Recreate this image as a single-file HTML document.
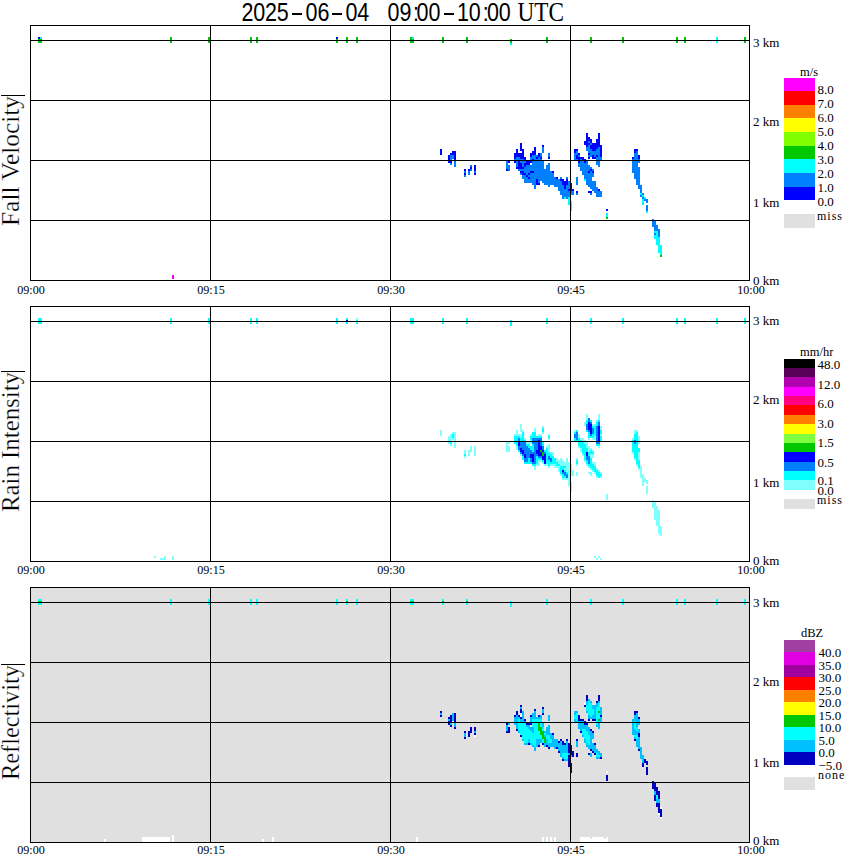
<!DOCTYPE html>
<html><head><meta charset="utf-8"><style>
html,body{margin:0;padding:0;background:#fff;width:850px;height:868px;overflow:hidden}
svg{display:block}
text{fill:#000}
</style></head><body>
<svg width="850" height="868" viewBox="0 0 850 868" shape-rendering="crispEdges">
<rect x="0" y="0" width="850" height="868" fill="#fff"/>
<rect x="38" y="37" width="2" height="2" fill="#0000ff"/>
<rect x="38" y="39" width="2" height="4" fill="#00c800"/>
<rect x="40" y="37" width="2" height="2" fill="#00ffff"/>
<rect x="40" y="39" width="2" height="4" fill="#00c800"/>
<rect x="170" y="37" width="2" height="6" fill="#00c800"/>
<rect x="172" y="275" width="2" height="4" fill="#ff00ff"/>
<rect x="208" y="37" width="2" height="6" fill="#00c800"/>
<rect x="250" y="37" width="2" height="6" fill="#00c800"/>
<rect x="256" y="37" width="2" height="6" fill="#00c800"/>
<rect x="336" y="37" width="2" height="2" fill="#0000ff"/>
<rect x="336" y="39" width="2" height="4" fill="#00c800"/>
<rect x="346" y="37" width="2" height="6" fill="#00c800"/>
<rect x="356" y="37" width="2" height="6" fill="#00c800"/>
<rect x="410" y="37" width="2" height="6" fill="#00c800"/>
<rect x="412" y="37" width="2" height="2" fill="#00ffff"/>
<rect x="412" y="39" width="2" height="4" fill="#00c800"/>
<rect x="440" y="149" width="2" height="6" fill="#0000ff"/>
<rect x="442" y="37" width="2" height="6" fill="#00c800"/>
<rect x="448" y="155" width="2" height="8" fill="#0000ff"/>
<rect x="450" y="153" width="2" height="2" fill="#0000ff"/>
<rect x="450" y="155" width="2" height="6" fill="#0080ff"/>
<rect x="450" y="161" width="2" height="2" fill="#0000ff"/>
<rect x="450" y="163" width="2" height="2" fill="#0080ff"/>
<rect x="452" y="151" width="2" height="4" fill="#0000ff"/>
<rect x="452" y="155" width="2" height="4" fill="#0080ff"/>
<rect x="454" y="151" width="2" height="10" fill="#0000ff"/>
<rect x="454" y="161" width="2" height="6" fill="#0080ff"/>
<rect x="464" y="169" width="2" height="2" fill="#0000ff"/>
<rect x="464" y="171" width="2" height="2" fill="#0080ff"/>
<rect x="464" y="173" width="2" height="2" fill="#0000ff"/>
<rect x="464" y="175" width="2" height="2" fill="#0080ff"/>
<rect x="466" y="37" width="2" height="6" fill="#00c800"/>
<rect x="468" y="169" width="2" height="2" fill="#0000ff"/>
<rect x="468" y="171" width="2" height="4" fill="#0080ff"/>
<rect x="470" y="165" width="2" height="2" fill="#0080ff"/>
<rect x="470" y="167" width="2" height="2" fill="#0000ff"/>
<rect x="470" y="169" width="2" height="2" fill="#0080ff"/>
<rect x="474" y="165" width="2" height="6" fill="#0000ff"/>
<rect x="474" y="171" width="2" height="2" fill="#0080ff"/>
<rect x="474" y="173" width="2" height="2" fill="#0000ff"/>
<rect x="506" y="161" width="2" height="8" fill="#0080ff"/>
<rect x="506" y="169" width="2" height="2" fill="#0000ff"/>
<rect x="508" y="161" width="2" height="2" fill="#0000ff"/>
<rect x="508" y="165" width="2" height="6" fill="#0080ff"/>
<rect x="510" y="39" width="2" height="4" fill="#00c800"/>
<rect x="510" y="43" width="2" height="2" fill="#00ffff"/>
<rect x="514" y="153" width="2" height="6" fill="#0000ff"/>
<rect x="514" y="159" width="2" height="2" fill="#0080ff"/>
<rect x="514" y="161" width="2" height="2" fill="#0000ff"/>
<rect x="516" y="149" width="2" height="8" fill="#0000ff"/>
<rect x="516" y="157" width="2" height="10" fill="#0080ff"/>
<rect x="516" y="167" width="2" height="2" fill="#0000ff"/>
<rect x="518" y="153" width="2" height="4" fill="#0000ff"/>
<rect x="518" y="157" width="2" height="4" fill="#0080ff"/>
<rect x="518" y="161" width="2" height="8" fill="#0000ff"/>
<rect x="518" y="169" width="2" height="2" fill="#0080ff"/>
<rect x="520" y="143" width="2" height="8" fill="#0000ff"/>
<rect x="520" y="153" width="2" height="6" fill="#0000ff"/>
<rect x="520" y="159" width="2" height="4" fill="#0080ff"/>
<rect x="520" y="163" width="2" height="6" fill="#0000ff"/>
<rect x="520" y="169" width="2" height="2" fill="#0080ff"/>
<rect x="520" y="171" width="2" height="2" fill="#0000ff"/>
<rect x="520" y="173" width="2" height="2" fill="#0080ff"/>
<rect x="522" y="149" width="2" height="10" fill="#0000ff"/>
<rect x="522" y="159" width="2" height="8" fill="#0080ff"/>
<rect x="522" y="167" width="2" height="2" fill="#0000ff"/>
<rect x="522" y="169" width="2" height="2" fill="#0080ff"/>
<rect x="522" y="171" width="2" height="4" fill="#0000ff"/>
<rect x="522" y="175" width="2" height="4" fill="#0080ff"/>
<rect x="524" y="157" width="2" height="4" fill="#0000ff"/>
<rect x="524" y="161" width="2" height="2" fill="#0080ff"/>
<rect x="524" y="163" width="2" height="4" fill="#0000ff"/>
<rect x="524" y="167" width="2" height="6" fill="#0080ff"/>
<rect x="524" y="173" width="2" height="2" fill="#0000ff"/>
<rect x="524" y="175" width="2" height="8" fill="#0080ff"/>
<rect x="526" y="161" width="2" height="4" fill="#0000ff"/>
<rect x="526" y="165" width="2" height="10" fill="#0080ff"/>
<rect x="526" y="175" width="2" height="2" fill="#0000ff"/>
<rect x="526" y="177" width="2" height="6" fill="#0080ff"/>
<rect x="528" y="161" width="2" height="4" fill="#0000ff"/>
<rect x="528" y="165" width="2" height="8" fill="#0080ff"/>
<rect x="528" y="173" width="2" height="2" fill="#0000ff"/>
<rect x="528" y="175" width="2" height="2" fill="#0080ff"/>
<rect x="528" y="177" width="2" height="2" fill="#0000ff"/>
<rect x="528" y="179" width="2" height="4" fill="#0080ff"/>
<rect x="530" y="153" width="2" height="4" fill="#0000ff"/>
<rect x="530" y="157" width="2" height="4" fill="#0080ff"/>
<rect x="530" y="161" width="2" height="2" fill="#0000ff"/>
<rect x="530" y="165" width="2" height="6" fill="#0080ff"/>
<rect x="530" y="171" width="2" height="2" fill="#0000ff"/>
<rect x="530" y="173" width="2" height="10" fill="#0080ff"/>
<rect x="532" y="151" width="2" height="4" fill="#0000ff"/>
<rect x="532" y="155" width="2" height="4" fill="#0080ff"/>
<rect x="532" y="159" width="2" height="2" fill="#0000ff"/>
<rect x="532" y="161" width="2" height="10" fill="#0080ff"/>
<rect x="532" y="171" width="2" height="2" fill="#0000ff"/>
<rect x="532" y="173" width="2" height="12" fill="#0080ff"/>
<rect x="534" y="147" width="2" height="8" fill="#0000ff"/>
<rect x="534" y="155" width="2" height="34" fill="#0080ff"/>
<rect x="536" y="155" width="2" height="2" fill="#0080ff"/>
<rect x="536" y="157" width="2" height="2" fill="#0000ff"/>
<rect x="536" y="159" width="2" height="20" fill="#0080ff"/>
<rect x="536" y="179" width="2" height="6" fill="#0000ff"/>
<rect x="538" y="153" width="2" height="4" fill="#0000ff"/>
<rect x="538" y="157" width="2" height="26" fill="#0080ff"/>
<rect x="538" y="183" width="2" height="2" fill="#0000ff"/>
<rect x="540" y="153" width="2" height="4" fill="#0080ff"/>
<rect x="540" y="157" width="2" height="2" fill="#0000ff"/>
<rect x="540" y="159" width="2" height="22" fill="#0080ff"/>
<rect x="542" y="145" width="2" height="2" fill="#0000ff"/>
<rect x="542" y="147" width="2" height="6" fill="#0080ff"/>
<rect x="542" y="161" width="2" height="22" fill="#0080ff"/>
<rect x="544" y="169" width="2" height="16" fill="#0080ff"/>
<rect x="546" y="37" width="2" height="6" fill="#00c800"/>
<rect x="546" y="165" width="2" height="20" fill="#0080ff"/>
<rect x="548" y="153" width="2" height="4" fill="#0080ff"/>
<rect x="548" y="157" width="2" height="2" fill="#0000ff"/>
<rect x="548" y="163" width="2" height="24" fill="#0080ff"/>
<rect x="550" y="171" width="2" height="14" fill="#0080ff"/>
<rect x="552" y="171" width="2" height="2" fill="#0000ff"/>
<rect x="552" y="173" width="2" height="12" fill="#0080ff"/>
<rect x="554" y="177" width="2" height="10" fill="#0080ff"/>
<rect x="556" y="177" width="2" height="2" fill="#0000ff"/>
<rect x="556" y="179" width="2" height="8" fill="#0080ff"/>
<rect x="558" y="179" width="2" height="12" fill="#0080ff"/>
<rect x="560" y="177" width="2" height="2" fill="#0080ff"/>
<rect x="560" y="179" width="2" height="2" fill="#0000ff"/>
<rect x="560" y="181" width="2" height="14" fill="#0080ff"/>
<rect x="562" y="179" width="2" height="6" fill="#0000ff"/>
<rect x="562" y="185" width="2" height="14" fill="#0080ff"/>
<rect x="564" y="181" width="2" height="8" fill="#0000ff"/>
<rect x="564" y="189" width="2" height="8" fill="#0080ff"/>
<rect x="564" y="197" width="2" height="2" fill="#00ffff"/>
<rect x="566" y="177" width="2" height="2" fill="#0080ff"/>
<rect x="566" y="179" width="2" height="6" fill="#0000ff"/>
<rect x="566" y="185" width="2" height="14" fill="#0080ff"/>
<rect x="568" y="181" width="2" height="8" fill="#0080ff"/>
<rect x="568" y="189" width="2" height="2" fill="#0000ff"/>
<rect x="568" y="191" width="2" height="6" fill="#0080ff"/>
<rect x="568" y="197" width="2" height="8" fill="#00ffff"/>
<rect x="570" y="183" width="2" height="8" fill="#0000ff"/>
<rect x="570" y="191" width="2" height="4" fill="#0080ff"/>
<rect x="570" y="201" width="2" height="10" fill="#00ffff"/>
<rect x="572" y="189" width="2" height="2" fill="#0000ff"/>
<rect x="572" y="191" width="2" height="4" fill="#0080ff"/>
<rect x="574" y="149" width="2" height="4" fill="#0000ff"/>
<rect x="574" y="153" width="2" height="8" fill="#0080ff"/>
<rect x="576" y="149" width="2" height="2" fill="#0000ff"/>
<rect x="576" y="151" width="2" height="4" fill="#0080ff"/>
<rect x="576" y="155" width="2" height="4" fill="#0000ff"/>
<rect x="576" y="159" width="2" height="2" fill="#0080ff"/>
<rect x="576" y="177" width="2" height="8" fill="#0080ff"/>
<rect x="576" y="191" width="2" height="2" fill="#0000ff"/>
<rect x="576" y="193" width="2" height="2" fill="#0080ff"/>
<rect x="578" y="153" width="2" height="2" fill="#0000ff"/>
<rect x="578" y="155" width="2" height="2" fill="#0080ff"/>
<rect x="578" y="157" width="2" height="6" fill="#0000ff"/>
<rect x="578" y="163" width="2" height="4" fill="#0080ff"/>
<rect x="580" y="157" width="2" height="2" fill="#0000ff"/>
<rect x="580" y="159" width="2" height="12" fill="#0080ff"/>
<rect x="582" y="157" width="2" height="4" fill="#0000ff"/>
<rect x="582" y="161" width="2" height="14" fill="#0080ff"/>
<rect x="584" y="141" width="2" height="4" fill="#0000ff"/>
<rect x="584" y="159" width="2" height="4" fill="#0000ff"/>
<rect x="584" y="163" width="2" height="16" fill="#0080ff"/>
<rect x="584" y="179" width="2" height="2" fill="#00ffff"/>
<rect x="586" y="133" width="2" height="14" fill="#0000ff"/>
<rect x="586" y="147" width="2" height="4" fill="#0080ff"/>
<rect x="586" y="161" width="2" height="24" fill="#0080ff"/>
<rect x="588" y="137" width="2" height="4" fill="#0000ff"/>
<rect x="588" y="141" width="2" height="2" fill="#0080ff"/>
<rect x="588" y="143" width="2" height="2" fill="#0000ff"/>
<rect x="588" y="145" width="2" height="8" fill="#0080ff"/>
<rect x="588" y="153" width="2" height="2" fill="#0000ff"/>
<rect x="588" y="155" width="2" height="2" fill="#0080ff"/>
<rect x="588" y="157" width="2" height="2" fill="#0000ff"/>
<rect x="588" y="165" width="2" height="6" fill="#0080ff"/>
<rect x="588" y="171" width="2" height="2" fill="#0000ff"/>
<rect x="588" y="173" width="2" height="14" fill="#0080ff"/>
<rect x="588" y="191" width="2" height="2" fill="#0000ff"/>
<rect x="590" y="37" width="2" height="6" fill="#00c800"/>
<rect x="590" y="139" width="2" height="4" fill="#0000ff"/>
<rect x="590" y="143" width="2" height="2" fill="#0080ff"/>
<rect x="590" y="145" width="2" height="4" fill="#0000ff"/>
<rect x="590" y="149" width="2" height="8" fill="#0080ff"/>
<rect x="590" y="167" width="2" height="2" fill="#0080ff"/>
<rect x="590" y="169" width="2" height="2" fill="#0000ff"/>
<rect x="590" y="171" width="2" height="18" fill="#0080ff"/>
<rect x="590" y="191" width="2" height="2" fill="#0000ff"/>
<rect x="590" y="193" width="2" height="2" fill="#0080ff"/>
<rect x="592" y="143" width="2" height="8" fill="#0000ff"/>
<rect x="592" y="151" width="2" height="4" fill="#0080ff"/>
<rect x="592" y="155" width="2" height="4" fill="#0000ff"/>
<rect x="592" y="169" width="2" height="2" fill="#0080ff"/>
<rect x="592" y="171" width="2" height="2" fill="#0000ff"/>
<rect x="592" y="173" width="2" height="4" fill="#0080ff"/>
<rect x="592" y="181" width="2" height="10" fill="#0080ff"/>
<rect x="594" y="143" width="2" height="8" fill="#0000ff"/>
<rect x="594" y="151" width="2" height="6" fill="#0080ff"/>
<rect x="594" y="157" width="2" height="2" fill="#0000ff"/>
<rect x="594" y="181" width="2" height="12" fill="#0080ff"/>
<rect x="596" y="139" width="2" height="10" fill="#0000ff"/>
<rect x="596" y="149" width="2" height="6" fill="#0080ff"/>
<rect x="596" y="155" width="2" height="2" fill="#0000ff"/>
<rect x="596" y="157" width="2" height="8" fill="#0080ff"/>
<rect x="596" y="187" width="2" height="10" fill="#0080ff"/>
<rect x="598" y="133" width="2" height="14" fill="#0000ff"/>
<rect x="598" y="147" width="2" height="20" fill="#0080ff"/>
<rect x="598" y="189" width="2" height="2" fill="#0000ff"/>
<rect x="598" y="191" width="2" height="6" fill="#0080ff"/>
<rect x="600" y="145" width="2" height="12" fill="#0000ff"/>
<rect x="600" y="157" width="2" height="4" fill="#0080ff"/>
<rect x="600" y="191" width="2" height="6" fill="#0080ff"/>
<rect x="606" y="209" width="2" height="2" fill="#0000ff"/>
<rect x="606" y="213" width="2" height="4" fill="#00ffff"/>
<rect x="606" y="217" width="2" height="2" fill="#00c800"/>
<rect x="622" y="37" width="2" height="6" fill="#00c800"/>
<rect x="632" y="157" width="2" height="2" fill="#0000ff"/>
<rect x="632" y="159" width="2" height="14" fill="#0080ff"/>
<rect x="634" y="149" width="2" height="4" fill="#0000ff"/>
<rect x="634" y="153" width="2" height="26" fill="#0080ff"/>
<rect x="636" y="149" width="2" height="2" fill="#0000ff"/>
<rect x="636" y="151" width="2" height="34" fill="#0080ff"/>
<rect x="638" y="155" width="2" height="4" fill="#0000ff"/>
<rect x="638" y="159" width="2" height="4" fill="#0080ff"/>
<rect x="638" y="167" width="2" height="22" fill="#0080ff"/>
<rect x="640" y="185" width="2" height="8" fill="#0080ff"/>
<rect x="640" y="193" width="2" height="2" fill="#00ffff"/>
<rect x="640" y="195" width="2" height="2" fill="#0080ff"/>
<rect x="642" y="193" width="2" height="2" fill="#0080ff"/>
<rect x="642" y="195" width="2" height="2" fill="#00ffff"/>
<rect x="642" y="197" width="2" height="2" fill="#0080ff"/>
<rect x="642" y="199" width="2" height="6" fill="#00ffff"/>
<rect x="644" y="197" width="2" height="2" fill="#00ffff"/>
<rect x="644" y="199" width="2" height="2" fill="#0080ff"/>
<rect x="646" y="199" width="2" height="4" fill="#0080ff"/>
<rect x="646" y="205" width="2" height="6" fill="#0080ff"/>
<rect x="646" y="211" width="2" height="2" fill="#00ffff"/>
<rect x="652" y="219" width="2" height="8" fill="#0080ff"/>
<rect x="654" y="221" width="2" height="10" fill="#0080ff"/>
<rect x="654" y="231" width="2" height="2" fill="#00ffff"/>
<rect x="654" y="233" width="2" height="2" fill="#0080ff"/>
<rect x="654" y="235" width="2" height="4" fill="#00ffff"/>
<rect x="656" y="225" width="2" height="6" fill="#0080ff"/>
<rect x="656" y="231" width="2" height="14" fill="#00ffff"/>
<rect x="658" y="229" width="2" height="8" fill="#0080ff"/>
<rect x="658" y="237" width="2" height="16" fill="#00ffff"/>
<rect x="660" y="245" width="2" height="10" fill="#00ffff"/>
<rect x="660" y="255" width="2" height="2" fill="#00c800"/>
<rect x="676" y="37" width="2" height="6" fill="#00c800"/>
<rect x="684" y="37" width="2" height="6" fill="#00c800"/>
<rect x="716" y="37" width="2" height="6" fill="#00ffff"/>
<rect x="744" y="37" width="2" height="6" fill="#00c800"/>
<rect x="30" y="25" width="720" height="1" fill="#000"/>
<rect x="30" y="280" width="720" height="1" fill="#000"/>
<rect x="30" y="25" width="1" height="256" fill="#000"/>
<rect x="749" y="25" width="1" height="256" fill="#000"/>
<rect x="30" y="40" width="720" height="1" fill="#000"/>
<rect x="30" y="100" width="720" height="1" fill="#000"/>
<rect x="30" y="160" width="720" height="1" fill="#000"/>
<rect x="30" y="220" width="720" height="1" fill="#000"/>
<rect x="210" y="25" width="1" height="256" fill="#000"/>
<rect x="390" y="25" width="1" height="256" fill="#000"/>
<rect x="570" y="25" width="1" height="256" fill="#000"/>
<rect x="38" y="318" width="2" height="6" fill="#00ffff"/>
<rect x="40" y="318" width="2" height="6" fill="#00ffff"/>
<rect x="154" y="556" width="2" height="2" fill="#80ffff"/>
<rect x="160" y="558" width="2" height="2" fill="#80ffff"/>
<rect x="162" y="558" width="2" height="2" fill="#80ffff"/>
<rect x="164" y="556" width="2" height="4" fill="#80ffff"/>
<rect x="170" y="318" width="2" height="6" fill="#00ffff"/>
<rect x="172" y="556" width="2" height="4" fill="#80ffff"/>
<rect x="208" y="318" width="2" height="6" fill="#00ffff"/>
<rect x="250" y="318" width="2" height="6" fill="#00ffff"/>
<rect x="256" y="318" width="2" height="6" fill="#00ffff"/>
<rect x="336" y="318" width="2" height="6" fill="#00ffff"/>
<rect x="346" y="318" width="2" height="2" fill="#00ffff"/>
<rect x="346" y="320" width="2" height="2" fill="#0000ff"/>
<rect x="346" y="322" width="2" height="2" fill="#00ffff"/>
<rect x="356" y="318" width="2" height="2" fill="#80ffff"/>
<rect x="356" y="320" width="2" height="4" fill="#00ffff"/>
<rect x="410" y="318" width="2" height="6" fill="#00ffff"/>
<rect x="412" y="318" width="2" height="6" fill="#00ffff"/>
<rect x="440" y="430" width="2" height="6" fill="#80ffff"/>
<rect x="442" y="318" width="2" height="6" fill="#00ffff"/>
<rect x="448" y="436" width="2" height="8" fill="#80ffff"/>
<rect x="450" y="434" width="2" height="8" fill="#80ffff"/>
<rect x="450" y="442" width="2" height="2" fill="#00ffff"/>
<rect x="450" y="444" width="2" height="2" fill="#80ffff"/>
<rect x="452" y="432" width="2" height="2" fill="#80ffff"/>
<rect x="452" y="434" width="2" height="4" fill="#00ffff"/>
<rect x="452" y="438" width="2" height="2" fill="#80ffff"/>
<rect x="454" y="432" width="2" height="16" fill="#80ffff"/>
<rect x="464" y="450" width="2" height="4" fill="#80ffff"/>
<rect x="464" y="454" width="2" height="2" fill="#00ffff"/>
<rect x="464" y="456" width="2" height="2" fill="#80ffff"/>
<rect x="466" y="318" width="2" height="6" fill="#00ffff"/>
<rect x="468" y="450" width="2" height="6" fill="#80ffff"/>
<rect x="470" y="446" width="2" height="6" fill="#80ffff"/>
<rect x="474" y="446" width="2" height="10" fill="#80ffff"/>
<rect x="506" y="442" width="2" height="10" fill="#80ffff"/>
<rect x="508" y="442" width="2" height="2" fill="#80ffff"/>
<rect x="508" y="446" width="2" height="6" fill="#80ffff"/>
<rect x="510" y="320" width="2" height="6" fill="#00ffff"/>
<rect x="514" y="434" width="2" height="2" fill="#80ffff"/>
<rect x="514" y="436" width="2" height="8" fill="#00ffff"/>
<rect x="516" y="430" width="2" height="6" fill="#80ffff"/>
<rect x="516" y="436" width="2" height="10" fill="#00ffff"/>
<rect x="516" y="446" width="2" height="4" fill="#80ffff"/>
<rect x="518" y="434" width="2" height="2" fill="#80ffff"/>
<rect x="518" y="436" width="2" height="2" fill="#00ffff"/>
<rect x="518" y="438" width="2" height="4" fill="#0080ff"/>
<rect x="518" y="442" width="2" height="4" fill="#0000ff"/>
<rect x="518" y="446" width="2" height="4" fill="#0080ff"/>
<rect x="518" y="450" width="2" height="2" fill="#00ffff"/>
<rect x="520" y="424" width="2" height="8" fill="#80ffff"/>
<rect x="520" y="434" width="2" height="4" fill="#80ffff"/>
<rect x="520" y="438" width="2" height="4" fill="#00ffff"/>
<rect x="520" y="442" width="2" height="6" fill="#0080ff"/>
<rect x="520" y="448" width="2" height="4" fill="#0000ff"/>
<rect x="520" y="452" width="2" height="2" fill="#0080ff"/>
<rect x="520" y="454" width="2" height="2" fill="#80ffff"/>
<rect x="522" y="430" width="2" height="2" fill="#80ffff"/>
<rect x="522" y="432" width="2" height="10" fill="#00ffff"/>
<rect x="522" y="442" width="2" height="8" fill="#0080ff"/>
<rect x="522" y="450" width="2" height="4" fill="#0000ff"/>
<rect x="522" y="454" width="2" height="2" fill="#0080ff"/>
<rect x="522" y="456" width="2" height="4" fill="#00ffff"/>
<rect x="524" y="438" width="2" height="2" fill="#80ffff"/>
<rect x="524" y="440" width="2" height="2" fill="#00ffff"/>
<rect x="524" y="442" width="2" height="12" fill="#0080ff"/>
<rect x="524" y="454" width="2" height="4" fill="#0000ff"/>
<rect x="524" y="458" width="2" height="4" fill="#0080ff"/>
<rect x="524" y="462" width="2" height="2" fill="#00ffff"/>
<rect x="526" y="442" width="2" height="2" fill="#80ffff"/>
<rect x="526" y="444" width="2" height="2" fill="#00ffff"/>
<rect x="526" y="446" width="2" height="16" fill="#0080ff"/>
<rect x="526" y="462" width="2" height="2" fill="#00ffff"/>
<rect x="528" y="442" width="2" height="2" fill="#80ffff"/>
<rect x="528" y="444" width="2" height="4" fill="#00ffff"/>
<rect x="528" y="448" width="2" height="10" fill="#0080ff"/>
<rect x="528" y="458" width="2" height="6" fill="#00ffff"/>
<rect x="530" y="434" width="2" height="2" fill="#80ffff"/>
<rect x="530" y="436" width="2" height="4" fill="#00ffff"/>
<rect x="530" y="440" width="2" height="4" fill="#80ffff"/>
<rect x="530" y="446" width="2" height="4" fill="#00ffff"/>
<rect x="530" y="450" width="2" height="4" fill="#0080ff"/>
<rect x="530" y="454" width="2" height="4" fill="#0000ff"/>
<rect x="530" y="458" width="2" height="4" fill="#0080ff"/>
<rect x="530" y="462" width="2" height="2" fill="#00ffff"/>
<rect x="532" y="432" width="2" height="6" fill="#00ffff"/>
<rect x="532" y="438" width="2" height="6" fill="#0080ff"/>
<rect x="532" y="444" width="2" height="8" fill="#00ffff"/>
<rect x="532" y="452" width="2" height="2" fill="#0080ff"/>
<rect x="532" y="454" width="2" height="8" fill="#0000ff"/>
<rect x="532" y="462" width="2" height="2" fill="#0080ff"/>
<rect x="532" y="464" width="2" height="2" fill="#00ffff"/>
<rect x="534" y="428" width="2" height="4" fill="#80ffff"/>
<rect x="534" y="432" width="2" height="6" fill="#00ffff"/>
<rect x="534" y="438" width="2" height="26" fill="#0080ff"/>
<rect x="534" y="464" width="2" height="2" fill="#00ffff"/>
<rect x="534" y="466" width="2" height="4" fill="#80ffff"/>
<rect x="536" y="436" width="2" height="2" fill="#00ffff"/>
<rect x="536" y="438" width="2" height="12" fill="#0080ff"/>
<rect x="536" y="450" width="2" height="4" fill="#0000ff"/>
<rect x="536" y="454" width="2" height="2" fill="#0080ff"/>
<rect x="536" y="456" width="2" height="8" fill="#00ffff"/>
<rect x="536" y="464" width="2" height="2" fill="#80ffff"/>
<rect x="538" y="434" width="2" height="2" fill="#80ffff"/>
<rect x="538" y="436" width="2" height="2" fill="#00ffff"/>
<rect x="538" y="438" width="2" height="2" fill="#0080ff"/>
<rect x="538" y="440" width="2" height="16" fill="#0000ff"/>
<rect x="538" y="456" width="2" height="2" fill="#0080ff"/>
<rect x="538" y="458" width="2" height="2" fill="#00ffff"/>
<rect x="538" y="460" width="2" height="6" fill="#80ffff"/>
<rect x="540" y="434" width="2" height="2" fill="#80ffff"/>
<rect x="540" y="436" width="2" height="2" fill="#00ffff"/>
<rect x="540" y="438" width="2" height="8" fill="#0080ff"/>
<rect x="540" y="446" width="2" height="4" fill="#0000ff"/>
<rect x="540" y="450" width="2" height="2" fill="#00c800"/>
<rect x="540" y="452" width="2" height="4" fill="#0000ff"/>
<rect x="540" y="456" width="2" height="2" fill="#0080ff"/>
<rect x="540" y="458" width="2" height="2" fill="#00ffff"/>
<rect x="540" y="460" width="2" height="2" fill="#80ffff"/>
<rect x="542" y="426" width="2" height="2" fill="#80ffff"/>
<rect x="542" y="428" width="2" height="4" fill="#00ffff"/>
<rect x="542" y="432" width="2" height="2" fill="#80ffff"/>
<rect x="542" y="442" width="2" height="4" fill="#00ffff"/>
<rect x="542" y="446" width="2" height="4" fill="#0080ff"/>
<rect x="542" y="450" width="2" height="2" fill="#0000ff"/>
<rect x="542" y="452" width="2" height="4" fill="#00c800"/>
<rect x="542" y="456" width="2" height="4" fill="#0000ff"/>
<rect x="542" y="460" width="2" height="2" fill="#00ffff"/>
<rect x="542" y="462" width="2" height="2" fill="#80ffff"/>
<rect x="544" y="450" width="2" height="2" fill="#00ffff"/>
<rect x="544" y="452" width="2" height="2" fill="#0080ff"/>
<rect x="544" y="454" width="2" height="10" fill="#0000ff"/>
<rect x="544" y="464" width="2" height="2" fill="#80ffff"/>
<rect x="546" y="318" width="2" height="6" fill="#00ffff"/>
<rect x="546" y="446" width="2" height="2" fill="#80ffff"/>
<rect x="546" y="448" width="2" height="16" fill="#00ffff"/>
<rect x="546" y="464" width="2" height="2" fill="#80ffff"/>
<rect x="548" y="434" width="2" height="2" fill="#80ffff"/>
<rect x="548" y="436" width="2" height="2" fill="#00ffff"/>
<rect x="548" y="438" width="2" height="2" fill="#80ffff"/>
<rect x="548" y="444" width="2" height="8" fill="#80ffff"/>
<rect x="548" y="452" width="2" height="4" fill="#00ffff"/>
<rect x="548" y="456" width="2" height="4" fill="#0080ff"/>
<rect x="548" y="460" width="2" height="6" fill="#00ffff"/>
<rect x="548" y="466" width="2" height="2" fill="#80ffff"/>
<rect x="550" y="452" width="2" height="2" fill="#80ffff"/>
<rect x="550" y="454" width="2" height="4" fill="#00ffff"/>
<rect x="550" y="458" width="2" height="4" fill="#0080ff"/>
<rect x="550" y="462" width="2" height="2" fill="#00ffff"/>
<rect x="550" y="464" width="2" height="2" fill="#80ffff"/>
<rect x="552" y="452" width="2" height="4" fill="#80ffff"/>
<rect x="552" y="456" width="2" height="8" fill="#00ffff"/>
<rect x="552" y="464" width="2" height="2" fill="#80ffff"/>
<rect x="554" y="458" width="2" height="6" fill="#00ffff"/>
<rect x="554" y="464" width="2" height="4" fill="#80ffff"/>
<rect x="556" y="458" width="2" height="4" fill="#80ffff"/>
<rect x="556" y="462" width="2" height="4" fill="#00ffff"/>
<rect x="556" y="466" width="2" height="2" fill="#80ffff"/>
<rect x="558" y="460" width="2" height="4" fill="#80ffff"/>
<rect x="558" y="464" width="2" height="2" fill="#00ffff"/>
<rect x="558" y="466" width="2" height="6" fill="#80ffff"/>
<rect x="560" y="458" width="2" height="8" fill="#80ffff"/>
<rect x="560" y="466" width="2" height="8" fill="#00ffff"/>
<rect x="560" y="474" width="2" height="2" fill="#80ffff"/>
<rect x="562" y="460" width="2" height="6" fill="#80ffff"/>
<rect x="562" y="466" width="2" height="4" fill="#00ffff"/>
<rect x="562" y="470" width="2" height="2" fill="#0000ff"/>
<rect x="562" y="472" width="2" height="2" fill="#0080ff"/>
<rect x="562" y="474" width="2" height="4" fill="#00ffff"/>
<rect x="562" y="478" width="2" height="2" fill="#80ffff"/>
<rect x="564" y="462" width="2" height="4" fill="#80ffff"/>
<rect x="564" y="466" width="2" height="2" fill="#00ffff"/>
<rect x="564" y="468" width="2" height="2" fill="#80ffff"/>
<rect x="564" y="470" width="2" height="2" fill="#00ffff"/>
<rect x="564" y="472" width="2" height="4" fill="#0080ff"/>
<rect x="564" y="476" width="2" height="2" fill="#00ffff"/>
<rect x="564" y="478" width="2" height="2" fill="#80ffff"/>
<rect x="566" y="458" width="2" height="14" fill="#80ffff"/>
<rect x="566" y="472" width="2" height="2" fill="#00ffff"/>
<rect x="566" y="474" width="2" height="4" fill="#0080ff"/>
<rect x="566" y="478" width="2" height="2" fill="#80ffff"/>
<rect x="568" y="462" width="2" height="24" fill="#80ffff"/>
<rect x="570" y="464" width="2" height="12" fill="#80ffff"/>
<rect x="570" y="482" width="2" height="10" fill="#80ffff"/>
<rect x="572" y="470" width="2" height="6" fill="#80ffff"/>
<rect x="574" y="430" width="2" height="2" fill="#80ffff"/>
<rect x="574" y="432" width="2" height="2" fill="#00ffff"/>
<rect x="574" y="434" width="2" height="4" fill="#0080ff"/>
<rect x="574" y="438" width="2" height="4" fill="#00ffff"/>
<rect x="576" y="430" width="2" height="2" fill="#00ffff"/>
<rect x="576" y="432" width="2" height="8" fill="#0080ff"/>
<rect x="576" y="440" width="2" height="2" fill="#00ffff"/>
<rect x="576" y="458" width="2" height="2" fill="#80ffff"/>
<rect x="576" y="460" width="2" height="4" fill="#00ffff"/>
<rect x="576" y="464" width="2" height="2" fill="#80ffff"/>
<rect x="576" y="472" width="2" height="4" fill="#80ffff"/>
<rect x="578" y="434" width="2" height="4" fill="#80ffff"/>
<rect x="578" y="438" width="2" height="8" fill="#00ffff"/>
<rect x="578" y="446" width="2" height="2" fill="#80ffff"/>
<rect x="580" y="438" width="2" height="2" fill="#80ffff"/>
<rect x="580" y="440" width="2" height="8" fill="#00ffff"/>
<rect x="580" y="448" width="2" height="4" fill="#80ffff"/>
<rect x="582" y="438" width="2" height="4" fill="#80ffff"/>
<rect x="582" y="442" width="2" height="12" fill="#00ffff"/>
<rect x="582" y="454" width="2" height="2" fill="#80ffff"/>
<rect x="584" y="422" width="2" height="4" fill="#80ffff"/>
<rect x="584" y="440" width="2" height="4" fill="#80ffff"/>
<rect x="584" y="444" width="2" height="16" fill="#00ffff"/>
<rect x="584" y="460" width="2" height="2" fill="#80ffff"/>
<rect x="586" y="414" width="2" height="6" fill="#80ffff"/>
<rect x="586" y="420" width="2" height="4" fill="#00ffff"/>
<rect x="586" y="424" width="2" height="6" fill="#0080ff"/>
<rect x="586" y="430" width="2" height="2" fill="#00ffff"/>
<rect x="586" y="442" width="2" height="6" fill="#80ffff"/>
<rect x="586" y="448" width="2" height="4" fill="#00ffff"/>
<rect x="586" y="452" width="2" height="4" fill="#0000ff"/>
<rect x="586" y="456" width="2" height="4" fill="#0080ff"/>
<rect x="586" y="460" width="2" height="4" fill="#00ffff"/>
<rect x="586" y="464" width="2" height="2" fill="#80ffff"/>
<rect x="588" y="418" width="2" height="4" fill="#0080ff"/>
<rect x="588" y="422" width="2" height="8" fill="#0000ff"/>
<rect x="588" y="430" width="2" height="2" fill="#0080ff"/>
<rect x="588" y="432" width="2" height="6" fill="#00ffff"/>
<rect x="588" y="438" width="2" height="2" fill="#80ffff"/>
<rect x="588" y="446" width="2" height="6" fill="#80ffff"/>
<rect x="588" y="452" width="2" height="4" fill="#00ffff"/>
<rect x="588" y="456" width="2" height="8" fill="#0080ff"/>
<rect x="588" y="464" width="2" height="2" fill="#00ffff"/>
<rect x="588" y="466" width="2" height="2" fill="#80ffff"/>
<rect x="588" y="472" width="2" height="2" fill="#80ffff"/>
<rect x="590" y="318" width="2" height="6" fill="#00ffff"/>
<rect x="590" y="420" width="2" height="2" fill="#00ffff"/>
<rect x="590" y="422" width="2" height="2" fill="#0080ff"/>
<rect x="590" y="424" width="2" height="10" fill="#0000ff"/>
<rect x="590" y="434" width="2" height="2" fill="#0080ff"/>
<rect x="590" y="436" width="2" height="2" fill="#00ffff"/>
<rect x="590" y="448" width="2" height="2" fill="#80ffff"/>
<rect x="590" y="450" width="2" height="4" fill="#00ffff"/>
<rect x="590" y="454" width="2" height="4" fill="#80ffff"/>
<rect x="590" y="458" width="2" height="10" fill="#00ffff"/>
<rect x="590" y="468" width="2" height="2" fill="#80ffff"/>
<rect x="590" y="472" width="2" height="4" fill="#80ffff"/>
<rect x="592" y="424" width="2" height="2" fill="#80ffff"/>
<rect x="592" y="426" width="2" height="2" fill="#00ffff"/>
<rect x="592" y="428" width="2" height="6" fill="#0080ff"/>
<rect x="592" y="434" width="2" height="4" fill="#00ffff"/>
<rect x="592" y="438" width="2" height="2" fill="#80ffff"/>
<rect x="592" y="450" width="2" height="2" fill="#80ffff"/>
<rect x="592" y="452" width="2" height="2" fill="#00ffff"/>
<rect x="592" y="454" width="2" height="4" fill="#80ffff"/>
<rect x="592" y="462" width="2" height="2" fill="#80ffff"/>
<rect x="592" y="464" width="2" height="6" fill="#00ffff"/>
<rect x="592" y="470" width="2" height="2" fill="#80ffff"/>
<rect x="594" y="424" width="2" height="2" fill="#80ffff"/>
<rect x="594" y="426" width="2" height="10" fill="#00ffff"/>
<rect x="594" y="436" width="2" height="4" fill="#80ffff"/>
<rect x="594" y="462" width="2" height="4" fill="#80ffff"/>
<rect x="594" y="466" width="2" height="6" fill="#00ffff"/>
<rect x="594" y="472" width="2" height="2" fill="#80ffff"/>
<rect x="594" y="556" width="2" height="2" fill="#80ffff"/>
<rect x="596" y="420" width="2" height="2" fill="#80ffff"/>
<rect x="596" y="422" width="2" height="4" fill="#00ffff"/>
<rect x="596" y="426" width="2" height="18" fill="#0080ff"/>
<rect x="596" y="444" width="2" height="2" fill="#00ffff"/>
<rect x="596" y="468" width="2" height="2" fill="#80ffff"/>
<rect x="596" y="470" width="2" height="6" fill="#00ffff"/>
<rect x="596" y="476" width="2" height="2" fill="#80ffff"/>
<rect x="596" y="558" width="2" height="2" fill="#80ffff"/>
<rect x="598" y="414" width="2" height="6" fill="#80ffff"/>
<rect x="598" y="420" width="2" height="2" fill="#00ffff"/>
<rect x="598" y="422" width="2" height="4" fill="#0080ff"/>
<rect x="598" y="426" width="2" height="16" fill="#0000ff"/>
<rect x="598" y="442" width="2" height="2" fill="#0080ff"/>
<rect x="598" y="444" width="2" height="2" fill="#00ffff"/>
<rect x="598" y="446" width="2" height="2" fill="#80ffff"/>
<rect x="598" y="470" width="2" height="2" fill="#80ffff"/>
<rect x="598" y="472" width="2" height="6" fill="#00ffff"/>
<rect x="598" y="556" width="2" height="2" fill="#80ffff"/>
<rect x="600" y="426" width="2" height="4" fill="#80ffff"/>
<rect x="600" y="430" width="2" height="4" fill="#00ffff"/>
<rect x="600" y="434" width="2" height="2" fill="#80ffff"/>
<rect x="600" y="436" width="2" height="6" fill="#00ffff"/>
<rect x="600" y="472" width="2" height="2" fill="#80ffff"/>
<rect x="600" y="474" width="2" height="2" fill="#00ffff"/>
<rect x="600" y="476" width="2" height="2" fill="#80ffff"/>
<rect x="600" y="558" width="2" height="2" fill="#80ffff"/>
<rect x="606" y="494" width="2" height="6" fill="#80ffff"/>
<rect x="622" y="318" width="2" height="6" fill="#00ffff"/>
<rect x="632" y="438" width="2" height="2" fill="#80ffff"/>
<rect x="632" y="440" width="2" height="12" fill="#00ffff"/>
<rect x="632" y="452" width="2" height="2" fill="#80ffff"/>
<rect x="634" y="430" width="2" height="4" fill="#80ffff"/>
<rect x="634" y="434" width="2" height="6" fill="#00ffff"/>
<rect x="634" y="440" width="2" height="4" fill="#0080ff"/>
<rect x="634" y="444" width="2" height="14" fill="#00ffff"/>
<rect x="634" y="458" width="2" height="2" fill="#80ffff"/>
<rect x="636" y="430" width="2" height="2" fill="#80ffff"/>
<rect x="636" y="432" width="2" height="32" fill="#00ffff"/>
<rect x="636" y="464" width="2" height="2" fill="#80ffff"/>
<rect x="638" y="436" width="2" height="8" fill="#80ffff"/>
<rect x="638" y="448" width="2" height="4" fill="#00ffff"/>
<rect x="638" y="452" width="2" height="8" fill="#80ffff"/>
<rect x="638" y="460" width="2" height="8" fill="#00ffff"/>
<rect x="638" y="468" width="2" height="2" fill="#80ffff"/>
<rect x="640" y="466" width="2" height="12" fill="#80ffff"/>
<rect x="642" y="474" width="2" height="12" fill="#80ffff"/>
<rect x="644" y="478" width="2" height="4" fill="#80ffff"/>
<rect x="646" y="480" width="2" height="4" fill="#80ffff"/>
<rect x="646" y="486" width="2" height="8" fill="#80ffff"/>
<rect x="652" y="500" width="2" height="8" fill="#80ffff"/>
<rect x="654" y="502" width="2" height="18" fill="#80ffff"/>
<rect x="656" y="506" width="2" height="20" fill="#80ffff"/>
<rect x="658" y="510" width="2" height="24" fill="#80ffff"/>
<rect x="660" y="526" width="2" height="10" fill="#80ffff"/>
<rect x="676" y="318" width="2" height="6" fill="#00ffff"/>
<rect x="684" y="318" width="2" height="6" fill="#00ffff"/>
<rect x="716" y="318" width="2" height="6" fill="#00ffff"/>
<rect x="744" y="318" width="2" height="6" fill="#00ffff"/>
<rect x="30" y="306" width="720" height="1" fill="#000"/>
<rect x="30" y="561" width="720" height="1" fill="#000"/>
<rect x="30" y="306" width="1" height="256" fill="#000"/>
<rect x="749" y="306" width="1" height="256" fill="#000"/>
<rect x="30" y="321" width="720" height="1" fill="#000"/>
<rect x="30" y="381" width="720" height="1" fill="#000"/>
<rect x="30" y="441" width="720" height="1" fill="#000"/>
<rect x="30" y="501" width="720" height="1" fill="#000"/>
<rect x="210" y="306" width="1" height="256" fill="#000"/>
<rect x="390" y="306" width="1" height="256" fill="#000"/>
<rect x="570" y="306" width="1" height="256" fill="#000"/>
<rect x="31" y="588" width="718" height="254" fill="#e0e0e0"/>
<rect x="38" y="599" width="2" height="2" fill="#00ffff"/>
<rect x="38" y="601" width="2" height="2" fill="#00c800"/>
<rect x="38" y="603" width="2" height="2" fill="#00ffff"/>
<rect x="40" y="599" width="2" height="2" fill="#00ffff"/>
<rect x="40" y="601" width="2" height="2" fill="#00c800"/>
<rect x="40" y="603" width="2" height="2" fill="#00ffff"/>
<rect x="104" y="839" width="2" height="4" fill="#ffffff"/>
<rect x="142" y="837" width="2" height="6" fill="#ffffff"/>
<rect x="144" y="837" width="2" height="6" fill="#ffffff"/>
<rect x="146" y="837" width="2" height="6" fill="#ffffff"/>
<rect x="148" y="837" width="2" height="6" fill="#ffffff"/>
<rect x="150" y="837" width="2" height="6" fill="#ffffff"/>
<rect x="152" y="837" width="2" height="6" fill="#ffffff"/>
<rect x="154" y="837" width="2" height="6" fill="#ffffff"/>
<rect x="156" y="837" width="2" height="6" fill="#ffffff"/>
<rect x="158" y="837" width="2" height="6" fill="#ffffff"/>
<rect x="160" y="837" width="2" height="6" fill="#ffffff"/>
<rect x="162" y="837" width="2" height="6" fill="#ffffff"/>
<rect x="164" y="837" width="2" height="6" fill="#ffffff"/>
<rect x="166" y="837" width="2" height="6" fill="#ffffff"/>
<rect x="168" y="837" width="2" height="6" fill="#ffffff"/>
<rect x="170" y="599" width="2" height="6" fill="#00ffff"/>
<rect x="172" y="835" width="2" height="8" fill="#ffffff"/>
<rect x="208" y="599" width="2" height="6" fill="#00ffff"/>
<rect x="250" y="599" width="2" height="6" fill="#00ffff"/>
<rect x="256" y="599" width="2" height="6" fill="#00ffff"/>
<rect x="262" y="839" width="2" height="4" fill="#ffffff"/>
<rect x="272" y="837" width="2" height="6" fill="#ffffff"/>
<rect x="336" y="599" width="2" height="6" fill="#00ffff"/>
<rect x="346" y="599" width="2" height="2" fill="#00ffff"/>
<rect x="346" y="601" width="2" height="2" fill="#00c800"/>
<rect x="346" y="603" width="2" height="2" fill="#00ffff"/>
<rect x="356" y="599" width="2" height="6" fill="#00ffff"/>
<rect x="410" y="599" width="2" height="2" fill="#00ffff"/>
<rect x="410" y="601" width="2" height="2" fill="#00c800"/>
<rect x="410" y="603" width="2" height="2" fill="#00ffff"/>
<rect x="412" y="599" width="2" height="2" fill="#00ffff"/>
<rect x="412" y="601" width="2" height="2" fill="#00c800"/>
<rect x="412" y="603" width="2" height="2" fill="#00ffff"/>
<rect x="416" y="837" width="2" height="6" fill="#ffffff"/>
<rect x="440" y="711" width="2" height="2" fill="#0000c0"/>
<rect x="440" y="713" width="2" height="2" fill="#00c0ff"/>
<rect x="440" y="715" width="2" height="2" fill="#0000c0"/>
<rect x="442" y="599" width="2" height="2" fill="#00ffff"/>
<rect x="442" y="601" width="2" height="2" fill="#00c800"/>
<rect x="442" y="603" width="2" height="2" fill="#00ffff"/>
<rect x="448" y="717" width="2" height="2" fill="#0000c0"/>
<rect x="448" y="719" width="2" height="2" fill="#00c0ff"/>
<rect x="448" y="721" width="2" height="4" fill="#0000c0"/>
<rect x="450" y="715" width="2" height="8" fill="#0000c0"/>
<rect x="450" y="723" width="2" height="2" fill="#00c0ff"/>
<rect x="450" y="725" width="2" height="2" fill="#0000c0"/>
<rect x="452" y="713" width="2" height="8" fill="#00c0ff"/>
<rect x="452" y="721" width="2" height="2" fill="#ffffff"/>
<rect x="454" y="713" width="2" height="10" fill="#0000c0"/>
<rect x="454" y="723" width="2" height="4" fill="#00c0ff"/>
<rect x="454" y="727" width="2" height="2" fill="#0000c0"/>
<rect x="464" y="731" width="2" height="2" fill="#0000c0"/>
<rect x="464" y="733" width="2" height="4" fill="#00c0ff"/>
<rect x="464" y="737" width="2" height="2" fill="#0000c0"/>
<rect x="466" y="599" width="2" height="2" fill="#00ffff"/>
<rect x="466" y="601" width="2" height="2" fill="#00c800"/>
<rect x="466" y="603" width="2" height="2" fill="#00ffff"/>
<rect x="468" y="731" width="2" height="6" fill="#0000c0"/>
<rect x="470" y="727" width="2" height="6" fill="#0000c0"/>
<rect x="474" y="727" width="2" height="4" fill="#0000c0"/>
<rect x="474" y="731" width="2" height="2" fill="#00c0ff"/>
<rect x="474" y="733" width="2" height="2" fill="#0000c0"/>
<rect x="474" y="735" width="2" height="2" fill="#ffffff"/>
<rect x="506" y="723" width="2" height="2" fill="#0000c0"/>
<rect x="506" y="725" width="2" height="6" fill="#00c0ff"/>
<rect x="506" y="731" width="2" height="2" fill="#0000c0"/>
<rect x="508" y="723" width="2" height="2" fill="#00c0ff"/>
<rect x="508" y="727" width="2" height="6" fill="#0000c0"/>
<rect x="510" y="601" width="2" height="6" fill="#00ffff"/>
<rect x="514" y="715" width="2" height="2" fill="#0000c0"/>
<rect x="514" y="717" width="2" height="8" fill="#00c0ff"/>
<rect x="516" y="711" width="2" height="4" fill="#0000c0"/>
<rect x="516" y="715" width="2" height="14" fill="#00c0ff"/>
<rect x="516" y="729" width="2" height="2" fill="#0000c0"/>
<rect x="518" y="715" width="2" height="2" fill="#0000c0"/>
<rect x="518" y="717" width="2" height="2" fill="#00c0ff"/>
<rect x="518" y="719" width="2" height="12" fill="#00ffff"/>
<rect x="518" y="731" width="2" height="2" fill="#00c0ff"/>
<rect x="520" y="705" width="2" height="2" fill="#0000c0"/>
<rect x="520" y="707" width="2" height="2" fill="#00c0ff"/>
<rect x="520" y="709" width="2" height="4" fill="#0000c0"/>
<rect x="520" y="715" width="2" height="2" fill="#ffffff"/>
<rect x="520" y="717" width="2" height="2" fill="#0000c0"/>
<rect x="520" y="719" width="2" height="4" fill="#00c0ff"/>
<rect x="520" y="723" width="2" height="12" fill="#00ffff"/>
<rect x="520" y="735" width="2" height="2" fill="#0000c0"/>
<rect x="522" y="711" width="2" height="12" fill="#00c0ff"/>
<rect x="522" y="723" width="2" height="16" fill="#00ffff"/>
<rect x="522" y="739" width="2" height="2" fill="#00c0ff"/>
<rect x="524" y="719" width="2" height="2" fill="#0000c0"/>
<rect x="524" y="721" width="2" height="2" fill="#00c0ff"/>
<rect x="524" y="723" width="2" height="20" fill="#00ffff"/>
<rect x="524" y="743" width="2" height="2" fill="#00c0ff"/>
<rect x="526" y="723" width="2" height="2" fill="#0000c0"/>
<rect x="526" y="725" width="2" height="2" fill="#00c0ff"/>
<rect x="526" y="727" width="2" height="16" fill="#00ffff"/>
<rect x="526" y="743" width="2" height="2" fill="#00c0ff"/>
<rect x="528" y="723" width="2" height="2" fill="#0000c0"/>
<rect x="528" y="725" width="2" height="4" fill="#00c0ff"/>
<rect x="528" y="729" width="2" height="10" fill="#00ffff"/>
<rect x="528" y="739" width="2" height="4" fill="#00c0ff"/>
<rect x="528" y="743" width="2" height="2" fill="#0000c0"/>
<rect x="530" y="715" width="2" height="2" fill="#0000c0"/>
<rect x="530" y="717" width="2" height="6" fill="#00c0ff"/>
<rect x="530" y="723" width="2" height="2" fill="#0000c0"/>
<rect x="530" y="727" width="2" height="4" fill="#00c0ff"/>
<rect x="530" y="731" width="2" height="12" fill="#00ffff"/>
<rect x="530" y="743" width="2" height="2" fill="#00c0ff"/>
<rect x="532" y="713" width="2" height="6" fill="#00c0ff"/>
<rect x="532" y="719" width="2" height="8" fill="#00ffff"/>
<rect x="532" y="727" width="2" height="6" fill="#00c0ff"/>
<rect x="532" y="733" width="2" height="12" fill="#00ffff"/>
<rect x="532" y="745" width="2" height="2" fill="#00c0ff"/>
<rect x="534" y="709" width="2" height="2" fill="#0000c0"/>
<rect x="534" y="711" width="2" height="8" fill="#00c0ff"/>
<rect x="534" y="719" width="2" height="28" fill="#00ffff"/>
<rect x="534" y="747" width="2" height="4" fill="#00c0ff"/>
<rect x="536" y="717" width="2" height="2" fill="#00c0ff"/>
<rect x="536" y="719" width="2" height="20" fill="#00ffff"/>
<rect x="536" y="739" width="2" height="8" fill="#00c0ff"/>
<rect x="538" y="715" width="2" height="2" fill="#0000c0"/>
<rect x="538" y="717" width="2" height="2" fill="#00c0ff"/>
<rect x="538" y="719" width="2" height="4" fill="#00ffff"/>
<rect x="538" y="723" width="2" height="8" fill="#00c800"/>
<rect x="538" y="731" width="2" height="8" fill="#00ffff"/>
<rect x="538" y="739" width="2" height="6" fill="#00c0ff"/>
<rect x="538" y="745" width="2" height="2" fill="#0000c0"/>
<rect x="540" y="715" width="2" height="4" fill="#00c0ff"/>
<rect x="540" y="719" width="2" height="8" fill="#00ffff"/>
<rect x="540" y="727" width="2" height="8" fill="#00c800"/>
<rect x="540" y="735" width="2" height="4" fill="#00ffff"/>
<rect x="540" y="739" width="2" height="4" fill="#00c0ff"/>
<rect x="542" y="707" width="2" height="2" fill="#0000c0"/>
<rect x="542" y="709" width="2" height="4" fill="#00c0ff"/>
<rect x="542" y="713" width="2" height="2" fill="#0000c0"/>
<rect x="542" y="723" width="2" height="4" fill="#00c0ff"/>
<rect x="542" y="727" width="2" height="4" fill="#00ffff"/>
<rect x="542" y="731" width="2" height="8" fill="#00c800"/>
<rect x="542" y="739" width="2" height="4" fill="#00ffff"/>
<rect x="542" y="743" width="2" height="2" fill="#0000c0"/>
<rect x="542" y="837" width="2" height="6" fill="#ffffff"/>
<rect x="544" y="731" width="2" height="2" fill="#00c0ff"/>
<rect x="544" y="733" width="2" height="2" fill="#00ffff"/>
<rect x="544" y="735" width="2" height="2" fill="#00c0ff"/>
<rect x="544" y="737" width="2" height="6" fill="#00c800"/>
<rect x="544" y="743" width="2" height="4" fill="#00c0ff"/>
<rect x="546" y="599" width="2" height="6" fill="#00ffff"/>
<rect x="546" y="727" width="2" height="8" fill="#00c0ff"/>
<rect x="546" y="735" width="2" height="4" fill="#00ffff"/>
<rect x="546" y="739" width="2" height="6" fill="#00c0ff"/>
<rect x="546" y="745" width="2" height="2" fill="#0000c0"/>
<rect x="546" y="837" width="2" height="6" fill="#ffffff"/>
<rect x="548" y="715" width="2" height="6" fill="#00c0ff"/>
<rect x="548" y="725" width="2" height="10" fill="#00c0ff"/>
<rect x="548" y="735" width="2" height="8" fill="#00ffff"/>
<rect x="548" y="743" width="2" height="4" fill="#00c0ff"/>
<rect x="548" y="747" width="2" height="2" fill="#0000c0"/>
<rect x="550" y="733" width="2" height="6" fill="#00c0ff"/>
<rect x="550" y="739" width="2" height="4" fill="#00ffff"/>
<rect x="550" y="743" width="2" height="4" fill="#00c0ff"/>
<rect x="550" y="837" width="2" height="6" fill="#ffffff"/>
<rect x="552" y="733" width="2" height="2" fill="#0000c0"/>
<rect x="552" y="735" width="2" height="12" fill="#00c0ff"/>
<rect x="554" y="739" width="2" height="10" fill="#00c0ff"/>
<rect x="554" y="837" width="2" height="6" fill="#ffffff"/>
<rect x="556" y="739" width="2" height="8" fill="#00c0ff"/>
<rect x="556" y="747" width="2" height="2" fill="#0000c0"/>
<rect x="558" y="741" width="2" height="2" fill="#0000c0"/>
<rect x="558" y="743" width="2" height="8" fill="#00c0ff"/>
<rect x="558" y="751" width="2" height="2" fill="#0000c0"/>
<rect x="560" y="739" width="2" height="2" fill="#0000c0"/>
<rect x="560" y="741" width="2" height="16" fill="#00c0ff"/>
<rect x="562" y="741" width="2" height="4" fill="#0000c0"/>
<rect x="562" y="745" width="2" height="8" fill="#00c0ff"/>
<rect x="562" y="753" width="2" height="4" fill="#00ffff"/>
<rect x="562" y="757" width="2" height="2" fill="#00c0ff"/>
<rect x="562" y="759" width="2" height="2" fill="#0000c0"/>
<rect x="564" y="743" width="2" height="2" fill="#0000c0"/>
<rect x="564" y="745" width="2" height="8" fill="#00c0ff"/>
<rect x="564" y="753" width="2" height="6" fill="#00ffff"/>
<rect x="564" y="759" width="2" height="2" fill="#00c0ff"/>
<rect x="566" y="739" width="2" height="2" fill="#0000c0"/>
<rect x="566" y="741" width="2" height="12" fill="#00c0ff"/>
<rect x="566" y="753" width="2" height="6" fill="#00ffff"/>
<rect x="566" y="759" width="2" height="2" fill="#00c0ff"/>
<rect x="568" y="743" width="2" height="10" fill="#0000c0"/>
<rect x="568" y="753" width="2" height="2" fill="#00c0ff"/>
<rect x="568" y="755" width="2" height="12" fill="#0000c0"/>
<rect x="570" y="745" width="2" height="10" fill="#0000c0"/>
<rect x="570" y="755" width="2" height="2" fill="#00c0ff"/>
<rect x="570" y="763" width="2" height="10" fill="#0000c0"/>
<rect x="572" y="751" width="2" height="6" fill="#0000c0"/>
<rect x="574" y="711" width="2" height="4" fill="#00c0ff"/>
<rect x="574" y="715" width="2" height="4" fill="#00ffff"/>
<rect x="574" y="719" width="2" height="4" fill="#00c0ff"/>
<rect x="576" y="711" width="2" height="2" fill="#00c0ff"/>
<rect x="576" y="713" width="2" height="8" fill="#00ffff"/>
<rect x="576" y="721" width="2" height="2" fill="#00c0ff"/>
<rect x="576" y="739" width="2" height="2" fill="#0000c0"/>
<rect x="576" y="741" width="2" height="6" fill="#00c0ff"/>
<rect x="576" y="753" width="2" height="4" fill="#0000c0"/>
<rect x="578" y="715" width="2" height="6" fill="#0000c0"/>
<rect x="578" y="721" width="2" height="8" fill="#00c0ff"/>
<rect x="580" y="719" width="2" height="2" fill="#0000c0"/>
<rect x="580" y="721" width="2" height="10" fill="#00c0ff"/>
<rect x="580" y="731" width="2" height="2" fill="#0000c0"/>
<rect x="580" y="837" width="2" height="6" fill="#ffffff"/>
<rect x="582" y="719" width="2" height="2" fill="#0000c0"/>
<rect x="582" y="721" width="2" height="8" fill="#00c0ff"/>
<rect x="582" y="729" width="2" height="6" fill="#00ffff"/>
<rect x="582" y="735" width="2" height="2" fill="#00c0ff"/>
<rect x="582" y="837" width="2" height="6" fill="#ffffff"/>
<rect x="584" y="703" width="2" height="2" fill="#ffffff"/>
<rect x="584" y="705" width="2" height="2" fill="#0000c0"/>
<rect x="584" y="721" width="2" height="4" fill="#0000c0"/>
<rect x="584" y="725" width="2" height="4" fill="#00c0ff"/>
<rect x="584" y="729" width="2" height="10" fill="#00ffff"/>
<rect x="584" y="739" width="2" height="4" fill="#00c0ff"/>
<rect x="584" y="837" width="2" height="6" fill="#ffffff"/>
<rect x="586" y="695" width="2" height="6" fill="#0000c0"/>
<rect x="586" y="701" width="2" height="4" fill="#00c0ff"/>
<rect x="586" y="705" width="2" height="6" fill="#00ffff"/>
<rect x="586" y="711" width="2" height="2" fill="#00c0ff"/>
<rect x="586" y="723" width="2" height="2" fill="#0000c0"/>
<rect x="586" y="725" width="2" height="6" fill="#00c0ff"/>
<rect x="586" y="731" width="2" height="12" fill="#00ffff"/>
<rect x="586" y="743" width="2" height="4" fill="#00c0ff"/>
<rect x="586" y="837" width="2" height="6" fill="#ffffff"/>
<rect x="588" y="699" width="2" height="2" fill="#00c0ff"/>
<rect x="588" y="701" width="2" height="14" fill="#00ffff"/>
<rect x="588" y="715" width="2" height="4" fill="#00c0ff"/>
<rect x="588" y="719" width="2" height="2" fill="#0000c0"/>
<rect x="588" y="727" width="2" height="8" fill="#00c0ff"/>
<rect x="588" y="735" width="2" height="10" fill="#00ffff"/>
<rect x="588" y="745" width="2" height="4" fill="#00c0ff"/>
<rect x="588" y="753" width="2" height="2" fill="#0000c0"/>
<rect x="588" y="837" width="2" height="6" fill="#ffffff"/>
<rect x="590" y="599" width="2" height="6" fill="#00ffff"/>
<rect x="590" y="701" width="2" height="2" fill="#00c0ff"/>
<rect x="590" y="703" width="2" height="14" fill="#00ffff"/>
<rect x="590" y="717" width="2" height="2" fill="#00c0ff"/>
<rect x="590" y="729" width="2" height="2" fill="#0000c0"/>
<rect x="590" y="731" width="2" height="18" fill="#00c0ff"/>
<rect x="590" y="749" width="2" height="2" fill="#0000c0"/>
<rect x="590" y="753" width="2" height="4" fill="#00c0ff"/>
<rect x="590" y="839" width="2" height="4" fill="#ffffff"/>
<rect x="592" y="705" width="2" height="4" fill="#00c0ff"/>
<rect x="592" y="709" width="2" height="6" fill="#00ffff"/>
<rect x="592" y="715" width="2" height="4" fill="#00c0ff"/>
<rect x="592" y="719" width="2" height="2" fill="#0000c0"/>
<rect x="592" y="731" width="2" height="2" fill="#0000c0"/>
<rect x="592" y="733" width="2" height="6" fill="#00c0ff"/>
<rect x="592" y="743" width="2" height="8" fill="#00c0ff"/>
<rect x="592" y="751" width="2" height="2" fill="#0000c0"/>
<rect x="592" y="837" width="2" height="6" fill="#ffffff"/>
<rect x="594" y="705" width="2" height="14" fill="#00c0ff"/>
<rect x="594" y="719" width="2" height="2" fill="#0000c0"/>
<rect x="594" y="743" width="2" height="2" fill="#0000c0"/>
<rect x="594" y="745" width="2" height="8" fill="#00c0ff"/>
<rect x="594" y="753" width="2" height="2" fill="#0000c0"/>
<rect x="594" y="837" width="2" height="6" fill="#ffffff"/>
<rect x="596" y="701" width="2" height="2" fill="#0000c0"/>
<rect x="596" y="703" width="2" height="4" fill="#00c0ff"/>
<rect x="596" y="707" width="2" height="18" fill="#00ffff"/>
<rect x="596" y="725" width="2" height="2" fill="#00c0ff"/>
<rect x="596" y="749" width="2" height="4" fill="#00c0ff"/>
<rect x="596" y="753" width="2" height="4" fill="#00ffff"/>
<rect x="596" y="757" width="2" height="2" fill="#00c0ff"/>
<rect x="596" y="837" width="2" height="6" fill="#ffffff"/>
<rect x="598" y="695" width="2" height="6" fill="#0000c0"/>
<rect x="598" y="701" width="2" height="2" fill="#00c0ff"/>
<rect x="598" y="703" width="2" height="8" fill="#00ffff"/>
<rect x="598" y="711" width="2" height="2" fill="#00c800"/>
<rect x="598" y="713" width="2" height="6" fill="#00ffff"/>
<rect x="598" y="719" width="2" height="2" fill="#00c800"/>
<rect x="598" y="721" width="2" height="2" fill="#00ffff"/>
<rect x="598" y="723" width="2" height="6" fill="#00c0ff"/>
<rect x="598" y="751" width="2" height="4" fill="#00c0ff"/>
<rect x="598" y="755" width="2" height="2" fill="#00ffff"/>
<rect x="598" y="757" width="2" height="2" fill="#00c0ff"/>
<rect x="598" y="837" width="2" height="6" fill="#ffffff"/>
<rect x="600" y="707" width="2" height="8" fill="#00c0ff"/>
<rect x="600" y="715" width="2" height="2" fill="#0000c0"/>
<rect x="600" y="717" width="2" height="6" fill="#00c0ff"/>
<rect x="600" y="753" width="2" height="4" fill="#00c0ff"/>
<rect x="600" y="757" width="2" height="2" fill="#0000c0"/>
<rect x="600" y="837" width="2" height="6" fill="#ffffff"/>
<rect x="602" y="837" width="2" height="6" fill="#ffffff"/>
<rect x="604" y="839" width="2" height="4" fill="#ffffff"/>
<rect x="606" y="771" width="2" height="2" fill="#ffffff"/>
<rect x="606" y="775" width="2" height="6" fill="#0000c0"/>
<rect x="606" y="837" width="2" height="6" fill="#ffffff"/>
<rect x="622" y="599" width="2" height="6" fill="#00ffff"/>
<rect x="632" y="719" width="2" height="16" fill="#00c0ff"/>
<rect x="634" y="711" width="2" height="4" fill="#0000c0"/>
<rect x="634" y="715" width="2" height="6" fill="#00c0ff"/>
<rect x="634" y="721" width="2" height="8" fill="#00ffff"/>
<rect x="634" y="729" width="2" height="6" fill="#00c0ff"/>
<rect x="634" y="735" width="2" height="2" fill="#00ffff"/>
<rect x="634" y="737" width="2" height="2" fill="#00c0ff"/>
<rect x="634" y="739" width="2" height="2" fill="#0000c0"/>
<rect x="636" y="711" width="2" height="2" fill="#0000c0"/>
<rect x="636" y="713" width="2" height="14" fill="#00c0ff"/>
<rect x="636" y="727" width="2" height="4" fill="#00ffff"/>
<rect x="636" y="731" width="2" height="4" fill="#00c0ff"/>
<rect x="636" y="735" width="2" height="4" fill="#00ffff"/>
<rect x="636" y="739" width="2" height="8" fill="#00c0ff"/>
<rect x="638" y="717" width="2" height="2" fill="#0000c0"/>
<rect x="638" y="719" width="2" height="6" fill="#00c0ff"/>
<rect x="638" y="729" width="2" height="4" fill="#00c0ff"/>
<rect x="638" y="733" width="2" height="4" fill="#0000c0"/>
<rect x="638" y="737" width="2" height="12" fill="#00c0ff"/>
<rect x="638" y="749" width="2" height="2" fill="#0000c0"/>
<rect x="640" y="747" width="2" height="12" fill="#00c0ff"/>
<rect x="642" y="755" width="2" height="8" fill="#00c0ff"/>
<rect x="642" y="763" width="2" height="4" fill="#0000c0"/>
<rect x="644" y="759" width="2" height="4" fill="#0000c0"/>
<rect x="646" y="761" width="2" height="4" fill="#0000c0"/>
<rect x="646" y="767" width="2" height="8" fill="#0000c0"/>
<rect x="652" y="781" width="2" height="8" fill="#0000c0"/>
<rect x="654" y="783" width="2" height="8" fill="#0000c0"/>
<rect x="654" y="791" width="2" height="4" fill="#00c0ff"/>
<rect x="654" y="795" width="2" height="6" fill="#0000c0"/>
<rect x="656" y="787" width="2" height="8" fill="#0000c0"/>
<rect x="656" y="795" width="2" height="4" fill="#00ffff"/>
<rect x="656" y="799" width="2" height="4" fill="#00c0ff"/>
<rect x="656" y="803" width="2" height="4" fill="#0000c0"/>
<rect x="658" y="791" width="2" height="8" fill="#0000c0"/>
<rect x="658" y="799" width="2" height="4" fill="#00c0ff"/>
<rect x="658" y="803" width="2" height="10" fill="#0000c0"/>
<rect x="658" y="813" width="2" height="2" fill="#ffffff"/>
<rect x="660" y="807" width="2" height="2" fill="#ffffff"/>
<rect x="660" y="809" width="2" height="8" fill="#0000c0"/>
<rect x="660" y="817" width="2" height="2" fill="#ffffff"/>
<rect x="676" y="599" width="2" height="6" fill="#00ffff"/>
<rect x="684" y="599" width="2" height="6" fill="#00ffff"/>
<rect x="716" y="599" width="2" height="6" fill="#00ffff"/>
<rect x="744" y="599" width="2" height="6" fill="#00ffff"/>
<rect x="30" y="587" width="720" height="1" fill="#000"/>
<rect x="30" y="842" width="720" height="1" fill="#000"/>
<rect x="30" y="587" width="1" height="256" fill="#000"/>
<rect x="749" y="587" width="1" height="256" fill="#000"/>
<rect x="30" y="602" width="720" height="1" fill="#000"/>
<rect x="30" y="662" width="720" height="1" fill="#000"/>
<rect x="30" y="722" width="720" height="1" fill="#000"/>
<rect x="30" y="782" width="720" height="1" fill="#000"/>
<rect x="210" y="587" width="1" height="256" fill="#000"/>
<rect x="390" y="587" width="1" height="256" fill="#000"/>
<rect x="570" y="587" width="1" height="256" fill="#000"/>
<text transform="translate(241.4,21) scale(0.86,1)" font-size="25" font-family="Liberation Sans, sans-serif">2</text>
<text transform="translate(253.20000000000002,21) scale(0.86,1)" font-size="25" font-family="Liberation Sans, sans-serif">0</text>
<text transform="translate(265.0,21) scale(0.86,1)" font-size="25" font-family="Liberation Sans, sans-serif">2</text>
<text transform="translate(276.8,21) scale(0.86,1)" font-size="25" font-family="Liberation Sans, sans-serif">5</text>
<rect x="292" y="13" width="10" height="2" fill="#000"/>
<text transform="translate(305.59999999999997,21) scale(0.86,1)" font-size="25" font-family="Liberation Sans, sans-serif">0</text>
<text transform="translate(317.4,21) scale(0.86,1)" font-size="25" font-family="Liberation Sans, sans-serif">6</text>
<rect x="332" y="13" width="10" height="2" fill="#000"/>
<text transform="translate(345.4,21) scale(0.86,1)" font-size="25" font-family="Liberation Sans, sans-serif">0</text>
<text transform="translate(357.2,21) scale(0.86,1)" font-size="25" font-family="Liberation Sans, sans-serif">4</text>
<text transform="translate(387.59999999999997,21) scale(0.86,1)" font-size="25" font-family="Liberation Sans, sans-serif">0</text>
<text transform="translate(399.4,21) scale(0.86,1)" font-size="25" font-family="Liberation Sans, sans-serif">9</text>
<text transform="translate(413.0,21) scale(0.86,1)" font-size="25" font-family="Liberation Sans, sans-serif">:</text>
<text transform="translate(416.59999999999997,21) scale(0.86,1)" font-size="25" font-family="Liberation Sans, sans-serif">0</text>
<text transform="translate(428.4,21) scale(0.86,1)" font-size="25" font-family="Liberation Sans, sans-serif">0</text>
<rect x="444" y="13" width="10" height="2" fill="#000"/>
<text transform="translate(456.9,21) scale(0.86,1)" font-size="25" font-family="Liberation Sans, sans-serif">1</text>
<text transform="translate(468.7,21) scale(0.86,1)" font-size="25" font-family="Liberation Sans, sans-serif">0</text>
<text transform="translate(482.7,21) scale(0.86,1)" font-size="25" font-family="Liberation Sans, sans-serif">:</text>
<text transform="translate(487.0,21) scale(0.86,1)" font-size="25" font-family="Liberation Sans, sans-serif">0</text>
<text transform="translate(498.8,21) scale(0.86,1)" font-size="25" font-family="Liberation Sans, sans-serif">0</text>
<text transform="translate(517.5,21) scale(0.86,1)" font-size="27" font-family="Liberation Serif, serif">UTC</text>
<text transform="translate(31,294) scale(0.9,1)" font-size="13.5" text-anchor="middle" font-family="Liberation Serif, serif">09:00</text>
<text transform="translate(211,294) scale(0.9,1)" font-size="13.5" text-anchor="middle" font-family="Liberation Serif, serif">09:15</text>
<text transform="translate(391,294) scale(0.9,1)" font-size="13.5" text-anchor="middle" font-family="Liberation Serif, serif">09:30</text>
<text transform="translate(571,294) scale(0.9,1)" font-size="13.5" text-anchor="middle" font-family="Liberation Serif, serif">09:45</text>
<text transform="translate(751,294) scale(0.9,1)" font-size="13.5" text-anchor="middle" font-family="Liberation Serif, serif">10:00</text>
<text x="753" y="47" font-size="13" text-anchor="start" font-family="Liberation Serif, serif" >3 km</text>
<text x="753" y="126" font-size="13" text-anchor="start" font-family="Liberation Serif, serif" >2 km</text>
<text x="753" y="207" font-size="13" text-anchor="start" font-family="Liberation Serif, serif" >1 km</text>
<text x="753" y="285" font-size="13" text-anchor="start" font-family="Liberation Serif, serif" >0 km</text>
<text transform="translate(19,226) rotate(-90)" x="0" y="0" font-size="26" font-family="Liberation Serif, serif" textLength="130" lengthAdjust="spacingAndGlyphs" stroke="#fff" stroke-width="0.25">Fall Velocity</text>
<rect x="1" y="95" width="24" height="1" fill="#000"/>
<text transform="translate(31,574) scale(0.9,1)" font-size="13.5" text-anchor="middle" font-family="Liberation Serif, serif">09:00</text>
<text transform="translate(211,574) scale(0.9,1)" font-size="13.5" text-anchor="middle" font-family="Liberation Serif, serif">09:15</text>
<text transform="translate(391,574) scale(0.9,1)" font-size="13.5" text-anchor="middle" font-family="Liberation Serif, serif">09:30</text>
<text transform="translate(571,574) scale(0.9,1)" font-size="13.5" text-anchor="middle" font-family="Liberation Serif, serif">09:45</text>
<text transform="translate(751,574) scale(0.9,1)" font-size="13.5" text-anchor="middle" font-family="Liberation Serif, serif">10:00</text>
<text x="753" y="325" font-size="13" text-anchor="start" font-family="Liberation Serif, serif" >3 km</text>
<text x="753" y="404" font-size="13" text-anchor="start" font-family="Liberation Serif, serif" >2 km</text>
<text x="753" y="487" font-size="13" text-anchor="start" font-family="Liberation Serif, serif" >1 km</text>
<text x="753" y="565" font-size="13" text-anchor="start" font-family="Liberation Serif, serif" >0 km</text>
<text transform="translate(19,512) rotate(-90)" x="0" y="0" font-size="26" font-family="Liberation Serif, serif" textLength="140" lengthAdjust="spacingAndGlyphs" stroke="#fff" stroke-width="0.25">Rain Intensity</text>
<rect x="1" y="371" width="24" height="1" fill="#000"/>
<text transform="translate(31,854) scale(0.9,1)" font-size="13.5" text-anchor="middle" font-family="Liberation Serif, serif">09:00</text>
<text transform="translate(211,854) scale(0.9,1)" font-size="13.5" text-anchor="middle" font-family="Liberation Serif, serif">09:15</text>
<text transform="translate(391,854) scale(0.9,1)" font-size="13.5" text-anchor="middle" font-family="Liberation Serif, serif">09:30</text>
<text transform="translate(571,854) scale(0.9,1)" font-size="13.5" text-anchor="middle" font-family="Liberation Serif, serif">09:45</text>
<text transform="translate(751,854) scale(0.9,1)" font-size="13.5" text-anchor="middle" font-family="Liberation Serif, serif">10:00</text>
<text x="753" y="607" font-size="13" text-anchor="start" font-family="Liberation Serif, serif" >3 km</text>
<text x="753" y="686" font-size="13" text-anchor="start" font-family="Liberation Serif, serif" >2 km</text>
<text x="753" y="767" font-size="13" text-anchor="start" font-family="Liberation Serif, serif" >1 km</text>
<text x="753" y="845" font-size="13" text-anchor="start" font-family="Liberation Serif, serif" >0 km</text>
<text transform="translate(19,780) rotate(-90)" x="0" y="0" font-size="26" font-family="Liberation Serif, serif" textLength="115" lengthAdjust="spacingAndGlyphs" stroke="#fff" stroke-width="0.25">Reflectivity</text>
<rect x="1" y="664" width="24" height="1" fill="#000"/>
<rect x="784" y="78" width="31" height="13" fill="#ff00ff"/>
<rect x="784" y="91" width="31" height="14" fill="#ff0000"/>
<rect x="784" y="105" width="31" height="13" fill="#ff8000"/>
<rect x="784" y="118" width="31" height="14" fill="#ffff00"/>
<rect x="784" y="132" width="31" height="14" fill="#80ff00"/>
<rect x="784" y="146" width="31" height="13" fill="#00c800"/>
<rect x="784" y="159" width="31" height="14" fill="#00ffff"/>
<rect x="784" y="173" width="31" height="14" fill="#0080ff"/>
<rect x="784" y="187" width="31" height="13" fill="#0000ff"/>
<text x="817.5" y="94" font-size="13" text-anchor="start" font-family="Liberation Serif, serif" >8.0</text>
<text x="817.5" y="108" font-size="13" text-anchor="start" font-family="Liberation Serif, serif" >7.0</text>
<text x="817.5" y="122" font-size="13" text-anchor="start" font-family="Liberation Serif, serif" >6.0</text>
<text x="817.5" y="136" font-size="13" text-anchor="start" font-family="Liberation Serif, serif" >5.0</text>
<text x="817.5" y="150" font-size="13" text-anchor="start" font-family="Liberation Serif, serif" >4.0</text>
<text x="817.5" y="164" font-size="13" text-anchor="start" font-family="Liberation Serif, serif" >3.0</text>
<text x="817.5" y="178" font-size="13" text-anchor="start" font-family="Liberation Serif, serif" >2.0</text>
<text x="817.5" y="192" font-size="13" text-anchor="start" font-family="Liberation Serif, serif" >1.0</text>
<text x="817.5" y="206" font-size="13" text-anchor="start" font-family="Liberation Serif, serif" >0.0</text>
<text x="800" y="76" font-size="12.5" text-anchor="start" font-family="Liberation Serif, serif" >m/s</text>
<rect x="784" y="214" width="31" height="14" fill="#e0e0e0"/>
<text x="817" y="220" font-size="12" font-family="Liberation Serif, serif" letter-spacing="1">miss</text>
<rect x="784" y="359" width="31" height="9" fill="#000000"/>
<rect x="784" y="368" width="31" height="9" fill="#580058"/>
<rect x="784" y="377" width="31" height="10" fill="#b000b0"/>
<rect x="784" y="387" width="31" height="9" fill="#ff00ff"/>
<rect x="784" y="396" width="31" height="9" fill="#ff0080"/>
<rect x="784" y="405" width="31" height="10" fill="#ff0000"/>
<rect x="784" y="415" width="31" height="9" fill="#ff8000"/>
<rect x="784" y="424" width="31" height="10" fill="#ffff00"/>
<rect x="784" y="434" width="31" height="9" fill="#80ff40"/>
<rect x="784" y="443" width="31" height="9" fill="#00c800"/>
<rect x="784" y="452" width="31" height="10" fill="#0000ff"/>
<rect x="784" y="462" width="31" height="9" fill="#0080ff"/>
<rect x="784" y="471" width="31" height="9" fill="#00ffff"/>
<rect x="784" y="480" width="31" height="10" fill="#80ffff"/>
<text x="817.5" y="369" font-size="13" text-anchor="start" font-family="Liberation Serif, serif" >48.0</text>
<text x="817.5" y="389" font-size="13" text-anchor="start" font-family="Liberation Serif, serif" >12.0</text>
<text x="817.5" y="408" font-size="13" text-anchor="start" font-family="Liberation Serif, serif" >6.0</text>
<text x="817.5" y="428" font-size="13" text-anchor="start" font-family="Liberation Serif, serif" >3.0</text>
<text x="817.5" y="447" font-size="13" text-anchor="start" font-family="Liberation Serif, serif" >1.5</text>
<text x="817.5" y="467" font-size="13" text-anchor="start" font-family="Liberation Serif, serif" >0.5</text>
<text x="817.5" y="485" font-size="13" text-anchor="start" font-family="Liberation Serif, serif" >0.1</text>
<text x="817.5" y="495" font-size="13" text-anchor="start" font-family="Liberation Serif, serif" >0.0</text>
<text x="800" y="356" font-size="12.5" text-anchor="start" font-family="Liberation Serif, serif" >mm/hr</text>
<rect x="784" y="499" width="31" height="10" fill="#e0e0e0"/>
<text x="817" y="504" font-size="12" font-family="Liberation Serif, serif" letter-spacing="1">miss</text>
<rect x="784" y="640" width="31" height="12" fill="#a040a0"/>
<rect x="784" y="652" width="31" height="13" fill="#e000e0"/>
<rect x="784" y="665" width="31" height="12" fill="#a000a0"/>
<rect x="784" y="677" width="31" height="13" fill="#ff0000"/>
<rect x="784" y="690" width="31" height="12" fill="#ff8000"/>
<rect x="784" y="702" width="31" height="13" fill="#ffff00"/>
<rect x="784" y="715" width="31" height="12" fill="#00c800"/>
<rect x="784" y="727" width="31" height="13" fill="#00ffff"/>
<rect x="784" y="740" width="31" height="12" fill="#00c0ff"/>
<rect x="784" y="752" width="31" height="13" fill="#0000c0"/>
<text x="818.5" y="657.0" font-size="13" text-anchor="start" font-family="Liberation Serif, serif" >40.0</text>
<text x="818.5" y="669.5" font-size="13" text-anchor="start" font-family="Liberation Serif, serif" >35.0</text>
<text x="818.5" y="682.0" font-size="13" text-anchor="start" font-family="Liberation Serif, serif" >30.0</text>
<text x="818.5" y="694.5" font-size="13" text-anchor="start" font-family="Liberation Serif, serif" >25.0</text>
<text x="818.5" y="707.0" font-size="13" text-anchor="start" font-family="Liberation Serif, serif" >20.0</text>
<text x="818.5" y="719.5" font-size="13" text-anchor="start" font-family="Liberation Serif, serif" >15.0</text>
<text x="818.5" y="732.0" font-size="13" text-anchor="start" font-family="Liberation Serif, serif" >10.0</text>
<text x="818.5" y="744.5" font-size="13" text-anchor="start" font-family="Liberation Serif, serif" >5.0</text>
<text x="818.5" y="757.0" font-size="13" text-anchor="start" font-family="Liberation Serif, serif" >0.0</text>
<text x="818.5" y="769.5" font-size="13" text-anchor="start" font-family="Liberation Serif, serif" >&#8722;5.0</text>
<text x="801" y="637" font-size="12.5" text-anchor="start" font-family="Liberation Serif, serif" >dBZ</text>
<rect x="784" y="777" width="31" height="13" fill="#e0e0e0"/>
<text x="818" y="779" font-size="12" font-family="Liberation Serif, serif" letter-spacing="1">none</text>
</svg></body></html>
